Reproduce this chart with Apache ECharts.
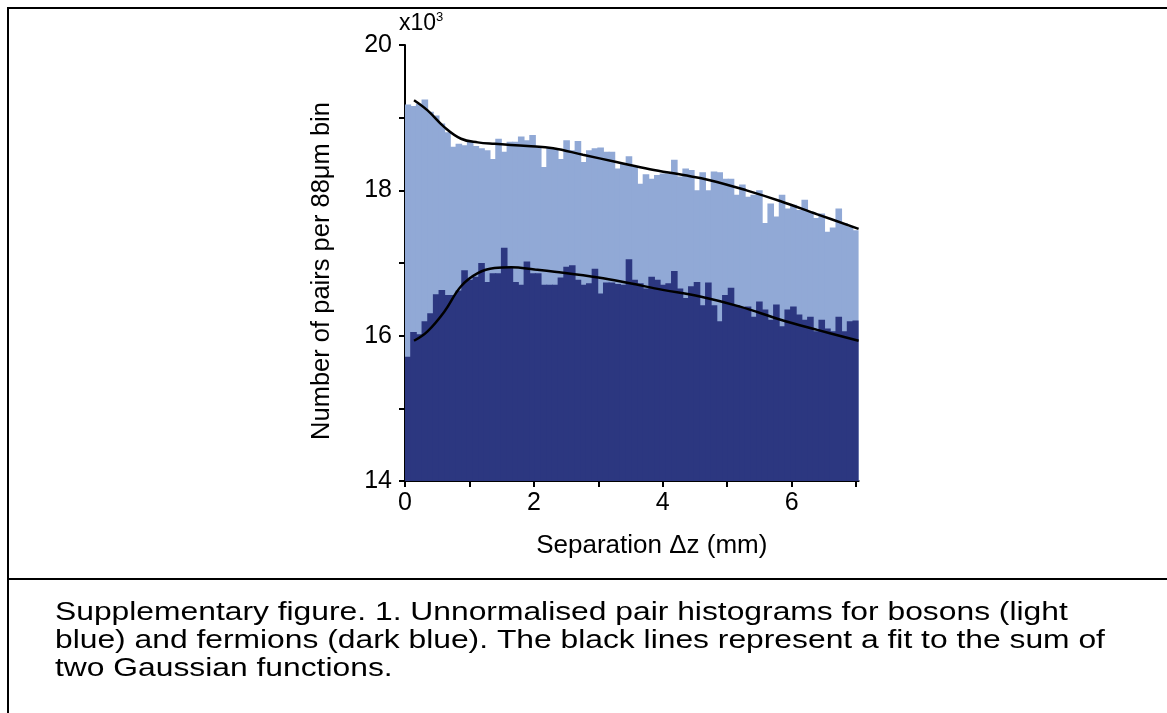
<!DOCTYPE html>
<html><head><meta charset="utf-8">
<script src="https://cdn.jsdelivr.net/npm/echarts@6/dist/echarts.min.js"></script>
<style>html,body{margin:0;padding:0;background:#fff}#c{width:1167px;height:713px}</style>
</head><body><div id="c"></div>
<script>
// Bin start positions (mm), 88 µm bins
const binStarts = ['0','0.088','0.176','0.264','0.352','0.44','0.528','0.616','0.704','0.792','0.88','0.968','1.056','1.144','1.232','1.32','1.408','1.496','1.584','1.672','1.76','1.848','1.936','2.024','2.112','2.2','2.288','2.376','2.464','2.552','2.64','2.728','2.816','2.904','2.992','3.08','3.168','3.256','3.344','3.432','3.52','3.608','3.696','3.784','3.872','3.96','4.048','4.136','4.224','4.312','4.4','4.488','4.576','4.664','4.752','4.84','4.928','5.016','5.104','5.192','5.28','5.368','5.456','5.544','5.632','5.72','5.808','5.896','5.984','6.072','6.16','6.248','6.336','6.424','6.512','6.6','6.688','6.776','6.864','6.952'];
// Counts in units of 10^3
const bosons = [19.18,19.16,19.19,19.25,19.08,19.03,18.92,18.80,18.60,18.64,18.62,18.67,18.61,18.58,18.55,18.43,18.71,18.53,18.67,18.67,18.74,18.69,18.76,18.60,18.32,18.58,
18.58,18.43,18.69,18.55,18.68,18.39,18.55,18.58,18.59,18.53,18.53,18.30,18.37,18.47,18.32,18.09,18.22,18.16,18.21,18.23,18.23,18.42,18.19,18.30,18.28,18.00,18.25,18.00,
18.26,18.25,18.16,18.16,17.94,18.08,17.91,17.94,18.00,17.55,17.82,17.64,17.94,17.75,17.80,17.73,17.87,17.71,17.62,17.68,17.43,17.49,17.75,17.55,17.50,17.45];
const fermions = [15.71,16.05,16.02,16.20,16.31,16.57,16.63,16.56,16.56,16.62,16.90,16.77,16.81,17.00,16.74,16.86,16.86,17.21,16.95,16.74,16.70,17.02,16.86,16.86,16.70,16.70,
16.70,16.80,16.95,16.97,16.77,16.70,16.72,16.92,16.58,16.73,16.73,16.71,16.70,17.05,16.77,16.72,16.65,16.81,16.77,16.70,16.72,16.89,16.65,16.52,16.68,16.74,16.42,16.73,
16.42,16.20,16.56,16.66,16.42,16.38,16.40,16.26,16.47,16.36,16.22,16.43,16.13,16.36,16.40,16.29,16.22,16.26,16.06,16.22,16.10,16.06,16.26,16.06,16.20,16.21];
// Fit curves (read points)
const bosonFitX = [0.14,0.35,0.61,0.87,1.13,1.39,1.9,2.3,2.76,3.28,3.8,4.32,4.73,5.3,5.83,6.4,7.04];
const bosonFitY = [19.24,19.10,18.87,18.71,18.66,18.64,18.61,18.58,18.49,18.39,18.29,18.21,18.14,18.00,17.85,17.67,17.47];
const fermionFitX = [0.14,0.35,0.61,0.87,1.13,1.39,1.65,2.01,2.32,3.0,3.49,4.0,4.58,5.2,5.83,6.4,7.04];
const fermionFitY = [15.93,16.06,16.33,16.68,16.86,16.93,16.94,16.91,16.88,16.80,16.72,16.63,16.54,16.40,16.22,16.08,15.93];
// Ticks / labels
const xTickValues = [0,1,2,3,4,5,6,7];
const xLabelValues = [0,2,4,6];
const yTickValues = [14,15,16,17,18,19,20];
const yLabelValues = [14,16,18,20];
const caption = ['Supplementary figure. 1. Unnormalised pair histograms for bosons (light',
 'blue) and fermions (dark blue). The black lines represent a fit to the sum of',
 'two Gaussian functions.'];

const FONT = '"Liberation Sans", Arial, sans-serif';
const chart = echarts.init(document.getElementById('c'), null, {renderer: 'canvas'});
const zip = (xs, ys) => xs.map((x, i) => [x, ys[i]]);
const axisStyle = {lineStyle: {color: '#000', width: 2}};
chart.setOption({
  animation: false,
  backgroundColor: '#fff',
  grid: {left: 405, right: 308.4, top: 45, bottom: 232, containLabel: false},
  xAxis: [{
    type: 'value', min: 0, max: 7.04,
    axisLine: {show: true, onZero: false, ...axisStyle},
    axisTick: {show: true, length: 6, inside: false, customValues: xTickValues, lineStyle: {color: '#000', width: 2}},
    axisLabel: {customValues: xLabelValues, color: '#000', fontSize: 25, fontFamily: FONT, margin: 10},
    splitLine: {show: false},
    name: 'Separation \u0394z (mm)', nameLocation: 'middle', nameGap: 52,
    nameTextStyle: {color: '#000', fontSize: 26, fontFamily: FONT, padding: [0, 0, 0, 40]}
  }, {
    type: 'category', data: binStarts, show: false, boundaryGap: true
  }],
  yAxis: [{
    type: 'value', min: 14, max: 20,
    axisLine: {show: true, onZero: false, ...axisStyle},
    axisTick: {show: true, length: 6, customValues: yTickValues, lineStyle: {color: '#000', width: 2}},
    axisLabel: {customValues: yLabelValues, color: '#000', fontSize: 25, fontFamily: FONT, margin: 13},
    splitLine: {show: false},
    name: 'Number of pairs per 88\u03bcm bin', nameLocation: 'middle', nameGap: 70, nameRotate: 90,
    nameTextStyle: {color: '#000', fontSize: 25.5, fontFamily: FONT, padding: [0, 16, 0, 0]}
  }],
  series: [{
    type: 'bar', xAxisIndex: 1, data: bosons, barWidth: 6.6, barGap: '-100%',
    itemStyle: {color: '#91a9d6'}, z: 1, silent: true
  }, {
    type: 'bar', xAxisIndex: 1, data: fermions, barWidth: 6.6, barGap: '-100%',
    itemStyle: {color: '#2c3780'}, z: 2, silent: true
  }, {
    type: 'line', xAxisIndex: 0, data: zip(bosonFitX, bosonFitY), smooth: 0.4, showSymbol: false,
    lineStyle: {color: '#000', width: 2.5}, z: 5, silent: true
  }, {
    type: 'line', xAxisIndex: 0, data: zip(fermionFitX, fermionFitY), smooth: 0.4, showSymbol: false,
    lineStyle: {color: '#000', width: 2.5}, z: 5, silent: true
  }],
  graphic: [
    {type: 'line', shape: {x1: 7, y1: 8, x2: 1167, y2: 8}, style: {stroke: '#000', lineWidth: 2}},
    {type: 'line', shape: {x1: 8, y1: 7, x2: 8, y2: 713}, style: {stroke: '#000', lineWidth: 2}},
    {type: 'line', shape: {x1: 7, y1: 579, x2: 1167, y2: 579}, style: {stroke: '#000', lineWidth: 2}},
    {type: 'text', left: 399, top: 11, style: {
      text: '{a|x10}{b|3}', fill: '#000',
      rich: {a: {fontSize: 23, fontFamily: FONT, fill: '#000'}, b: {fontSize: 13, fontFamily: FONT, fill: '#000', verticalAlign: 'top', padding: [0,0,12,0]}}
    }},
    {type: 'text', x: 55, y: 599, scaleX: 1.2, style: {
      text: caption.join('\n'), fontSize: 26.5, lineHeight: 28, fontFamily: FONT, fill: '#000'
    }}
  ]
});
</script></body></html>
